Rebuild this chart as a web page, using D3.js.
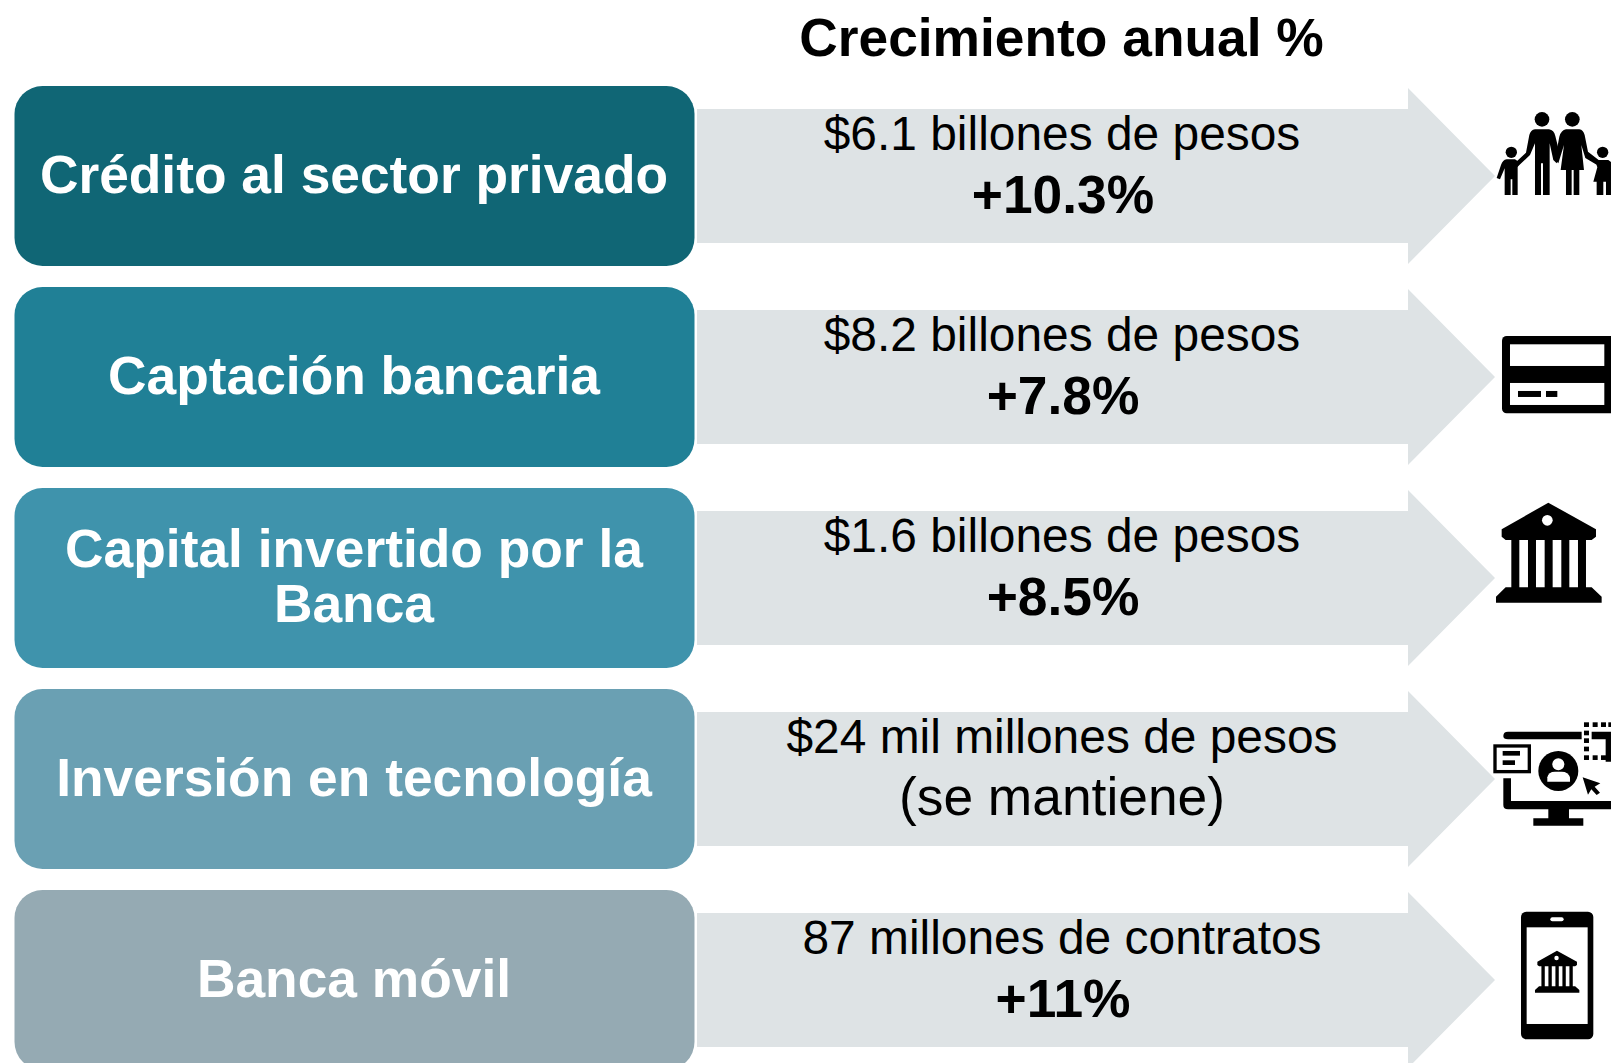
<!DOCTYPE html>
<html>
<head>
<meta charset="utf-8">
<script src="https://cdn.jsdelivr.net/npm/d3@7"></script>
<style>
  html, body { margin: 0; padding: 0; background: #fff; overflow: hidden; }
  text { font-family: "Liberation Sans", Arial, sans-serif; }
</style>
</head>
<body>
<svg id="chart"></svg>
<script>
var title = "Crecimiento anual %"
var categories = ["Crédito al sector privado", "Captación bancaria", "Capital invertido por la|Banca", "Inversión en tecnología", "Banca móvil"]
var amounts = ["$6.1 billones de pesos", "$8.2 billones de pesos", "$1.6 billones de pesos", "$24 mil millones de pesos", "87 millones de contratos"]
var changes = ["+10.3%", "+7.8%", "+8.5%", "(se mantiene)", "+11%"]
var changeBold = [true, true, true, false, true]
var boxColors = ["#106675", "#208096", "#3f93ac", "#6aa0b3", "#95aab3"]

var dimensions = { width: 1611, height: 1063 }

var svg = d3.select("#chart")
    .attr("width", dimensions.width)
    .attr("height", dimensions.height)
    .style("display", "block")

// one band per row, each 201px apart
var yScale = d3.scaleBand()
    .domain(d3.range(categories.length))
    .range([86, 86 + 201 * categories.length - 21])
    .paddingInner(21 / 201)
    .paddingOuter(0)

var rows = svg.selectAll("g.row")
    .data(categories)
    .enter()
    .append("g")
    .attr("class", "row")
    .attr("transform", function(d, i){ return "translate(0," + yScale(i) + ")" })

// grey arrows go first
rows.append("path")
    .attr("d", "M697,23H1408V2L1495,90L1408,178V157H697Z")
    .attr("fill", "#dee3e5")

rows.append("rect")
    .attr("x", 14.5)
    .attr("y", 0)
    .attr("width", 680)
    .attr("height", yScale.bandwidth())
    .attr("rx", 28)
    .attr("fill", function(d, i){ return boxColors[i] })

rows.each(function(d, i){
    var g = d3.select(this)
    var lines = d.split("|")
    var base = lines.length > 1 ? 79 : 106.5
    lines.forEach(function(line, k){
        g.append("text")
            .attr("x", 354)
            .attr("y", base + k * 55)
            .attr("text-anchor", "middle")
            .attr("font-weight", "bold")
            .attr("font-size", 53.33)
            .attr("fill", "#fff")
            .text(line)
    })
    g.append("text")
        .attr("x", 1062)
        .attr("y", 63.5)
        .attr("text-anchor", "middle")
        .attr("font-size", 47.9)
        .attr("fill", "#000")
        .text(amounts[i])
    g.append("text")
        .attr("x", changeBold[i] ? 1063 : 1062)
        .attr("y", changeBold[i] ? 127 : 125.5)
        .attr("text-anchor", "middle")
        .attr("font-weight", changeBold[i] ? "bold" : "normal")
        .attr("font-size", 53.33)
        .attr("fill", "#000")
        .text(changes[i])
})

svg.append("text")
    .attr("x", 1061.5)
    .attr("y", 56)
    .attr("text-anchor", "middle")
    .attr("font-weight", "bold")
    .attr("font-size", 53.33)
    .attr("fill", "#000")
    .text(title)

// icons, drawn in 3x units so the numbers stay whole
var bankPath = "M325,68L468,148V170L455,180H197L185,170V148Z"
    + "M214,180H238V322H214Z M264,180H288V322H264Z M314,180H338V322H314Z M364,180H388V322H364Z M414,180H438V322H414Z"
    + "M197,322H455L485,350V368H168V350Z"

function drawBank(g){
    g.append("path").attr("d", bankPath).attr("fill", "#000")
    g.append("circle").attr("cx", 322).attr("cy", 121).attr("r", 16).attr("fill", "#fff")
}

// family
var fam = svg.append("g").attr("transform", "translate(1440,80) scale(0.3333)")
fam.append("circle").attr("cx", 306).attr("cy", 118).attr("r", 22)
fam.append("circle").attr("cx", 397).attr("cy", 118).attr("r", 22)
fam.append("circle").attr("cx", 214).attr("cy", 217).attr("r", 17)
fam.append("circle").attr("cx", 488).attr("cy", 217).attr("r", 17)
fam.append("path").attr("d", "M285,148H327Q342,150 346,168L360,225L350,250L340,240L329,190V345H309V250H303V345H285V190L270,225L235,258L228,246L258,218L268,165Q272,150 285,148Z")
fam.append("path").attr("d", "M378,148H418Q430,150 434,165L444,215L476,240L470,254L436,234L424,195L432,270H418V345H401V270H395V345H378V270H362L372,195L355,250L345,240L358,170Q364,150 378,148Z")
fam.append("path").attr("d", "M200,238H225L240,248L233,262V345H217V298H212V345H194V265L180,298L170,294L183,255Q188,240 200,238Z")
fam.append("path").attr("d", "M472,240H505L513,246V345H498V305H490V345H470V305H460L472,262L468,250Z")

// card
var card = svg.append("g").attr("transform", "translate(1440,80) scale(0.3333)")
card.append("rect").attr("x", 186).attr("y", 768).attr("width", 340).attr("height", 232).attr("rx", 14)
card.append("rect").attr("x", 210).attr("y", 793).attr("width", 283).attr("height", 65).attr("fill", "#fff")
card.append("rect").attr("x", 210).attr("y", 909).attr("width", 283).attr("height", 66).attr("fill", "#fff")
card.append("rect").attr("x", 234).attr("y", 933).attr("width", 69).attr("height", 18)
card.append("rect").attr("x", 318).attr("y", 933).attr("width", 34).attr("height", 18)

// bank building
drawBank(svg.append("g").attr("transform", "translate(1440,480) scale(0.3333)"))

// computer
var pc = svg.append("g").attr("transform", "translate(1440,480) scale(0.3333)")
pc.append("path").attr("d", "M204,755H425V778H204Q190,778 190,768Q190,755 204,755Z")
pc.append("path").attr("d", "M455,755H513V845H497V778H455Z")
pc.append("path").attr("d", "M190,895H213V963H513V988H387V1015H430V1037H280V1015H325V988H204Q190,988 190,975Z")
pc.append("rect").attr("x", 165).attr("y", 798).attr("width", 103).attr("height", 77).attr("fill", "#fff").attr("stroke", "#000").attr("stroke-width", 10)
pc.append("rect").attr("x", 188).attr("y", 813).attr("width", 52).attr("height", 14)
pc.append("rect").attr("x", 188).attr("y", 841).attr("width", 37).attr("height", 14)
pc.append("circle").attr("cx", 355).attr("cy", 873).attr("r", 60)
pc.append("circle").attr("cx", 355).attr("cy", 853).attr("r", 18).attr("fill", "#fff")
pc.append("path").attr("d", "M322,905V892Q325,875 345,875H365Q385,875 390,892V905Z").attr("fill", "#fff")
pc.append("path").attr("d", "M428,892L481,910L464,920L480,938L470,945L454,928L444,944Z")
// dashed selection square
pc.selectAll("rect.dash")
    .data([[432,727],[458,727],[483,727],[505,727],[432,752],[432,775],[432,800],[432,826],[458,826],[483,826],[505,826]])
    .enter()
    .append("rect")
    .attr("class", "dash")
    .attr("x", function(d){ return d[0] })
    .attr("y", function(d){ return d[1] })
    .attr("width", 15)
    .attr("height", 14)

// phone
var phone = svg.append("g").attr("transform", "translate(1440,860) scale(0.3333)")
phone.append("rect").attr("x", 243).attr("y", 155).attr("width", 217).attr("height", 383).attr("rx", 16)
phone.append("rect").attr("x", 260).attr("y", 202).attr("width", 183).attr("height", 290).attr("fill", "#fff")
phone.append("rect").attr("x", 331).attr("y", 172).attr("width", 40).attr("height", 12).attr("rx", 6).attr("fill", "#fff")
drawBank(phone.append("g").attr("transform", "translate(214.4,243.4) scale(0.42)"))
</script>
</body>
</html>
